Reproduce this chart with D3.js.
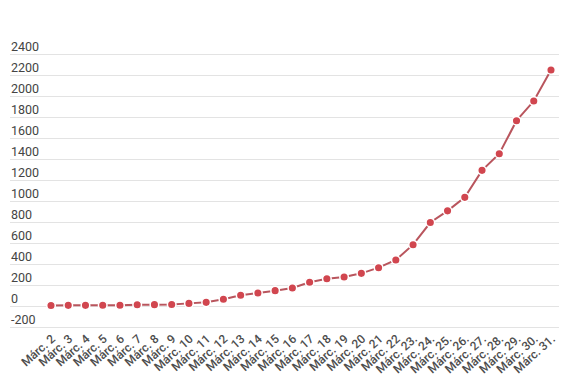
<!DOCTYPE html>
<html>
<head>
<meta charset="utf-8">
<script src="https://cdn.jsdelivr.net/npm/d3@7"></script>
<style>
  body { margin: 0; background: #fff; }
  svg { font-family: Roboto, "Noto Sans", sans-serif; }
  .ylab { font-size: 12.5px; fill: #444; }
  .xlab { font-size: 12px; fill: #4d4d4d; font-weight: 500; }
</style>
</head>
<body>
<svg id="chart" width="575" height="387"></svg>
<script>
// Data
const days = ['Márc. 2', 'Márc. 3', 'Márc. 4', 'Márc. 5', 'Márc. 6', 'Márc. 7',
  'Márc. 8', 'Márc. 9', 'Márc. 10', 'Márc. 11', 'Márc. 12', 'Márc. 13', 'Márc. 14',
  'Márc. 15', 'Márc. 16', 'Márc. 17', 'Márc. 18', 'Márc. 19', 'Márc. 20', 'Márc. 21',
  'Márc. 22', 'Márc. 23.', 'Márc. 24.', 'Márc. 25.', 'Márc. 26.', 'Márc. 27.',
  'Márc. 28.', 'Márc. 29.', 'Márc. 30.', 'Márc. 31.']
const values = [5, 6, 6, 7, 7, 12, 13, 14, 25, 35, 64, 102, 124, 146, 171, 226,
  260, 276, 311, 365, 438, 584, 795, 906, 1035, 1292, 1450, 1765, 1952, 2248]
const yTicks = [-200, 0, 200, 400, 600, 800, 1000, 1200, 1400, 1600, 1800, 2000, 2200, 2400]

const svg = d3.select('#chart')

const x = d3.scalePoint()
  .domain(days)
  .range([51, 551])

const y = d3.scaleLinear()
  .domain([-200, 2400])
  .range([327, 54])

// Grid + y labels
let grid = svg.append('g')
grid.selectAll('line')
  .data(yTicks)
  .join('line')
  .attr('x1', 10)
  .attr('x2', 559)
  .attr('y1', d => y(d) + 0.5)
  .attr('y2', d => y(d) + 0.5)
  .style('stroke', '#e3e3e3')
  .style('stroke-width', 1)

grid.selectAll('text')
  .data(yTicks)
  .join('text')
  .attr('class', 'ylab')
  .attr('x', 11)
  .attr('y', d => y(d) - 3)
  .text(d => d)

// X labels, rotated
svg.append('g')
  .selectAll('text')
  .data(days)
  .join('text')
  .attr('class', 'xlab')
  .attr('text-anchor', 'end')
  .attr('transform', d => 'translate(' + (x(d) + 5) + ',340) rotate(-42)')
  .text(d => d)

// Line
const line = d3.line()
  .x((d, i) => x(days[i]))
  .y(d => y(d))

svg.append('path')
  .datum(values)
  .attr('d', line)
  .style('fill', 'none')
  .style('stroke', '#b9555d')
  .style('stroke-width', 2)

svg.append('g')
  .selectAll('circle')
  .data(values)
  .join('circle')
  .attr('cx', (d, i) => x(days[i]))
  .attr('cy', d => y(d))
  .attr('r', 4.3)
  .style('fill', '#d1464f')
  .style('stroke', '#fff')
  .style('stroke-width', 1.5)
</script>
</body>
</html>
